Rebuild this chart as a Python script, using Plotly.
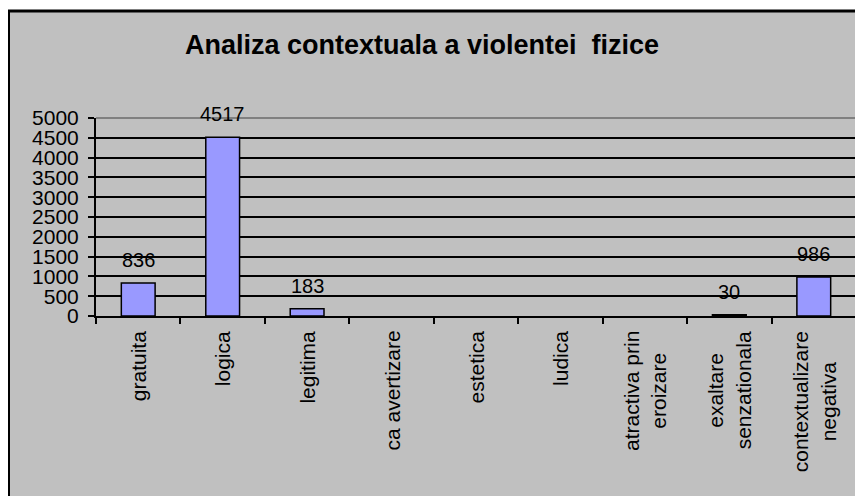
import plotly.graph_objects as go

categories = ["gratuita", "logica", "legitima", "ca avertizare", "estetica", "ludica",
              "atractiva prin<br>eroizare", "exaltare<br>senzationala", "contextualizare<br>negativa"]
values = [836, 4517, 183, 0, 0, 0, 0, 30, 986]
y_ticks = list(range(0, 5001, 500))
title_text = "Analiza contextuala a violentei\u00a0 fizice"

FONT = "Liberation Sans, Arial, sans-serif"
GRAY = "#C0C0C0"

fig = go.Figure()
fig.add_trace(go.Bar(
    x=categories, y=values, width=0.4,
    marker=dict(color="#9999FF",
                line=dict(color="black", width=[1.5 if v > 0 else 0 for v in values])),
    hoverinfo="x+y",
))

# value labels above bars
for c, v in zip(categories, values):
    if v > 0:
        fig.add_annotation(x=c, y=v, text=str(v), showarrow=False, yanchor="bottom",
                           yshift=10, font=dict(family=FONT, size=20, color="black"))

# category labels (rotated, centred lines)
for c in categories:
    fig.add_annotation(x=c, xref="x", y=0, yref="paper", text=c, showarrow=False,
                       textangle=-90, xanchor="center", yanchor="top", align="center",
                       yshift=-13, font=dict(family=FONT, size=21, color="black"))

# body margin of the page is 8px: figure coords = reference coords - 8
W, H = 863, 496
L, R, T, B = 88, 15, 110, 188
pw, ph = W - L - R, H - T - B

def px_x(p):
    return (p - L) / pw

def px_y(p):
    return 1 - (p - T) / ph

fig.update_layout(
    width=W, height=H,
    margin=dict(l=L, r=R, t=T, b=B),
    paper_bgcolor="white",
    plot_bgcolor=GRAY,
    showlegend=False,
    title=dict(text="<b>" + title_text + "</b>", x=414 / W, xanchor="center",
               y=1 - 37 / H, yanchor="middle",
               font=dict(family=FONT, size=27, color="black")),
    xaxis=dict(
        type="category", tickson="boundaries", showticklabels=False,
        ticks="outside", ticklen=6, tickwidth=2, tickcolor="black",
        showline=True, linecolor="black", linewidth=2,
        showgrid=False,
    ),
    yaxis=dict(
        range=[0, 5000], tickvals=y_ticks,
        ticks="outside", ticklen=6, tickwidth=2, tickcolor="black",
        showline=True, linecolor="black", linewidth=2,
        showgrid=True, gridcolor="black", gridwidth=2,
        zeroline=False,
        tickfont=dict(family=FONT, size=21, color="black"),
        ticklabelstandoff=5,
    ),
    shapes=[
        # outer chart area (only top/left border visible)
        dict(type="rect", xref="paper", yref="paper",
             x0=px_x(0.5), y0=px_y(H + 50), x1=px_x(W + 50), y1=px_y(3),
             fillcolor=GRAY, line=dict(color="black", width=3), layer="below"),
        # plot-area border top and right (gray)
        dict(type="line", xref="paper", yref="paper", x0=0, x1=1, y0=1, y1=1,
             line=dict(color="#808080", width=2), layer="above"),
        dict(type="line", xref="paper", yref="paper", x0=1, x1=1, y0=0, y1=1,
             line=dict(color="#808080", width=2), layer="above"),
    ],
)

fig.write_html("out.html")
